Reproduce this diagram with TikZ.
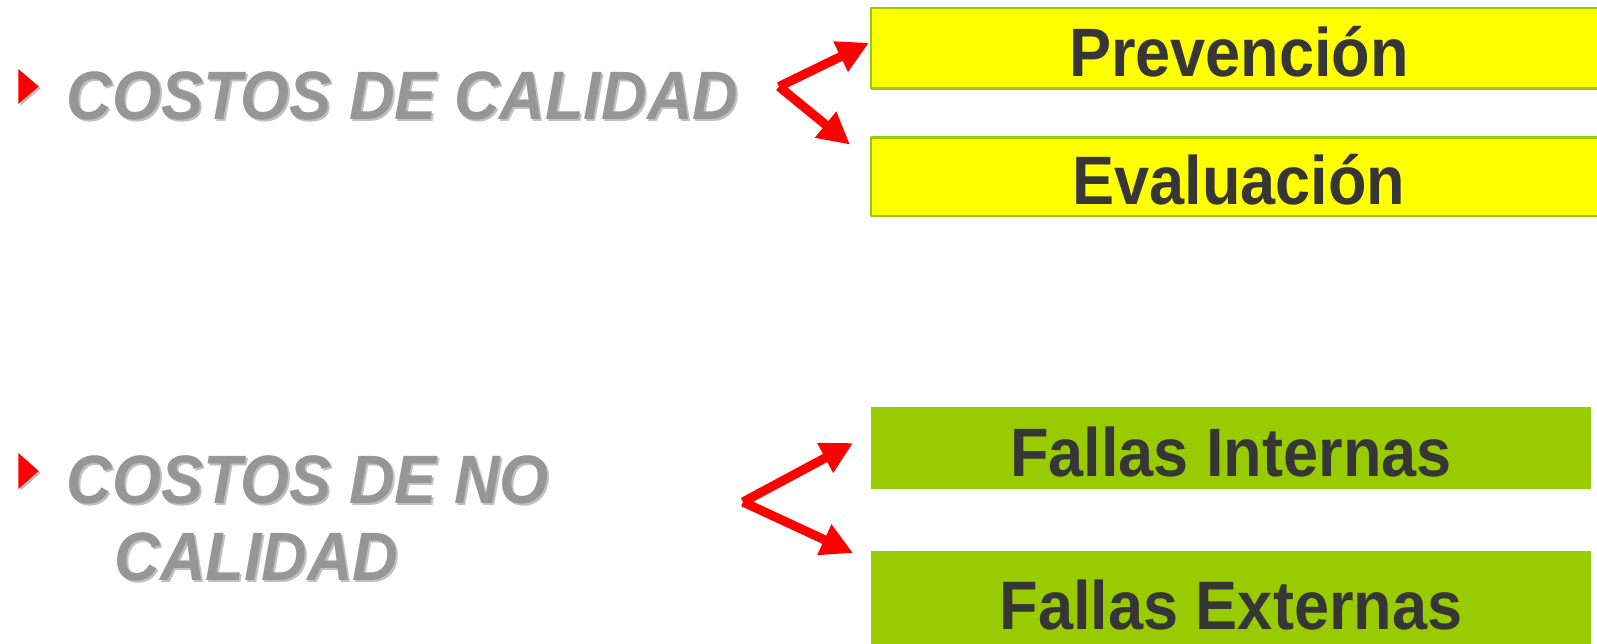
\documentclass[tikz,border=0pt]{standalone}
\usepackage{fontspec}
\setmainfont{Liberation Sans}[FakeStretch=0.92]
\usepackage{tikz}
\usetikzlibrary{arrows.meta}
\definecolor{amarillo}{HTML}{FFFF00}
\definecolor{verde}{HTML}{99CC00}
\definecolor{oscuro}{HTML}{363636}
\definecolor{gristxt}{HTML}{969696}
\definecolor{grissom}{HTML}{C0C0C0}
\newcommand{\grande}{\fontsize{19.5pt}{23pt}\selectfont\bfseries}

\begin{document}
\begin{tikzpicture}[line cap=round,line join=round,>={Triangle[length=9pt,width=9pt]},x=1cm,y=1cm,
  caja/.style={minimum width=7.36cm,inner sep=0pt,text height=16pt,text depth=0pt,text=oscuro,font=\grande},
  costo/.style={anchor=base west,inner sep=0pt,text=gristxt,font=\grande\itshape},
  sombra/.style={anchor=base west,inner sep=0pt,text=grissom,font=\grande\itshape},
  flecha/.style={draw=red,line width=2.6pt,line cap=butt,->}]
\clip(0,0) rectangle (15.97,6.44);
% cajas
\node (prev) [caja,fill=amarillo,draw=verde,line width=0.8pt,minimum height=0.805cm] at (12.39,5.957) {Prevención};
\node (eval) [caja,fill=amarillo,draw=verde,line width=0.8pt,minimum height=0.785cm] at (12.39,4.673) {Evaluación};
\node (fint) [caja,fill=verde,minimum width=7.2cm,minimum height=0.815cm] at (12.31,1.959) {Fallas Internas};
\node (fext) [caja,fill=verde,minimum width=7.2cm,minimum height=1.0cm] at (12.31,0.43) {Fallas Externas};
% vinietas
\fill[grissom] (0.203,5.73)-- (0.203,5.38)-- (0.407,5.555)-- cycle;
\fill[red] (0.183,5.75)-- (0.183,5.40)-- (0.387,5.575)-- cycle;
\fill[grissom] (0.203,1.89)-- (0.203,1.53)-- (0.407,1.71)-- cycle;
\fill[red] (0.183,1.91)-- (0.183,1.55)-- (0.387,1.73)-- cycle;
% textos
\node (cc-s) [sombra] at (0.68,5.22) {COSTOS DE CALIDAD};
\node (cc) [costo] at (0.66,5.24) {COSTOS DE CALIDAD};
\node (cnc1-s) [sombra] at (0.68,1.38) {COSTOS DE NO};
\node (cnc1) [costo] at (0.66,1.40) {COSTOS DE NO};
\node (cnc2-s) [sombra] at (1.16,0.615) {CALIDAD};
\node (cnc2) [costo] at (1.14,0.635) {CALIDAD};
% flechas
\coordinate (f1) at (7.79,5.574);
\coordinate (t1) at (8.69,6.012);
\coordinate (t2) at (8.50,4.994);
\coordinate (f2) at (7.43,1.42);
\coordinate (t3) at (8.53,2.01);
\coordinate (t4) at (8.53,0.91);
\draw [flecha] (f1)-- (t1);
\draw [flecha] (f1)-- (t2);
\draw [flecha] (f2)-- (t3);
\draw [flecha] (f2)-- (t4);
\end{tikzpicture}
\end{document}
